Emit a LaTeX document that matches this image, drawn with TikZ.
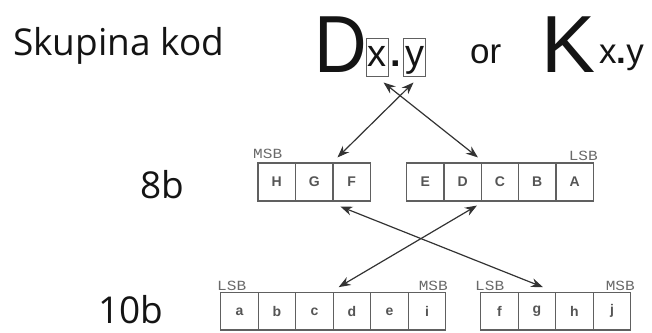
\documentclass[tikz,border=0pt]{standalone}
\usepackage{fontspec}
\setmainfont{Liberation Sans}
\newfontfamily\arialfont{Liberation Sans}
\newfontfamily\titlefont{Open Sans}
\newfontfamily\lblfont{Liberation Mono}
\usetikzlibrary{arrows.meta}
\definecolor{boxgray}{HTML}{606060}
\definecolor{lettergray}{HTML}{555555}
\definecolor{lblgray}{HTML}{6A6A6A}
\definecolor{arrowgray}{HTML}{333333}
\definecolor{txtdark}{HTML}{141414}
\begin{document}
\begin{tikzpicture}[x=1pt,y=-1pt,
  cell/.style={draw=boxgray, line width=1.1pt, minimum width=37.5pt, minimum height=38pt,
    inner sep=0pt, font=\arialfont\bfseries\fontsize{14}{14}\selectfont, text=lettergray},
  lcell/.style={cell, minimum height=37.3pt},
  subbox/.style={draw=boxgray, line width=1pt, minimum width=22pt, text height=28pt,
    text depth=10pt, inner sep=0pt, font=\arialfont\fontsize{38}{38}\selectfont, text=txtdark},
  bigtxt/.style={anchor=base west, inner sep=0pt, text=txtdark},
  sidetxt/.style={anchor=base west, inner sep=0pt, text=txtdark, font=\titlefont\fontsize{37}{37}\selectfont},
  bitlbl/.style={inner sep=0pt, text=lblgray, font=\lblfont\fontsize{14}{14}\selectfont},
  conn/.style={{Stealth[length=12pt,width=9pt]}-{Stealth[length=12pt,width=9pt]},
    line width=1.2pt, draw=arrowgray}]
\useasboundingbox (0,0) rectangle (652,332);

% left labels
\node[sidetxt] (title) at (13,55) {Skupina kod};
\node[sidetxt] (l8b) at (140,198) {8b};
\node[sidetxt] (l10b) at (98,323) {10b};

% top formula
\node[bigtxt, font=\arialfont\fontsize{81}{81}\selectfont] (Dl) at (314.6,72) {\scalebox{0.9}[1]{D}};
\node[subbox, anchor=base] (xb) at (377,66) {x};
\node[anchor=base, inner sep=0pt, text=txtdark, font=\arialfont\bfseries\fontsize{38}{38}\selectfont] (dt) at (395.5,66) {.};
\node[subbox, anchor=base] (yb) at (414.5,66) {y};
\node[bigtxt, font=\arialfont\fontsize{35}{35}\selectfont] (or) at (470,63) {or};
\node[bigtxt, font=\arialfont\fontsize{81}{81}\selectfont] (Kl) at (541,72) {K};
\node[bigtxt, font=\arialfont\fontsize{35}{35}\selectfont] (Ks) at (599,63) {x{\bfseries .}y};

% 8b row
\node[cell] (hH) at (276.75,182) {H};
\node[cell] (hG) at (314.25,182) {G};
\node[cell] (hF) at (351.75,182) {F};
\node[cell] (hE) at (425.35,182) {E};
\node[cell] (hD) at (462.65,182) {D};
\node[cell] (hC) at (499.95,182) {C};
\node[cell] (hB) at (537.25,182) {B};
\node[cell] (hA) at (574.55,182) {A};
\node[bitlbl, anchor=base west] (msb8) at (253,158) {\scalebox{1.15}[1]{MSB}};
\node[bitlbl, anchor=base east] (lsb8) at (598,160) {\scalebox{1.15}[1]{LSB}};

% 10b row
\node[lcell] (la) at (239.45,311.35) {a};
\node[lcell] (lb) at (276.95,311.35) {b};
\node[lcell] (lc) at (314.45,311.35) {c};
\node[lcell] (ld) at (351.95,311.35) {d};
\node[lcell] (le) at (389.45,311.35) {e};
\node[lcell] (li) at (426.95,311.35) {i};
\node[lcell] (lf) at (499.45,311.35) {f};
\node[lcell] (lg) at (536.95,311.35) {g};
\node[lcell] (lh) at (574.45,311.35) {h};
\node[lcell] (lj) at (611.95,311.35) {j};
\node[bitlbl, anchor=base west] (lsb10a) at (217,290) {\scalebox{1.15}[1]{LSB}};
\node[bitlbl, anchor=base east] (msb10a) at (448,290) {\scalebox{1.15}[1]{MSB}};
\node[bitlbl, anchor=base west] (lsb10b) at (475,290) {\scalebox{1.15}[1]{LSB}};
\node[bitlbl, anchor=base east] (msb10b) at (635,290) {\scalebox{1.15}[1]{MSB}};

% connectors
\draw[conn] ([xshift=-5pt,yshift=-6pt]xb.south east) -- ([xshift=-4pt,yshift=5pt]hD.north east);
\draw[conn] ([xshift=-1pt,yshift=-6pt]yb.south) -- ([xshift=5pt,yshift=5pt]hF.north west);
\draw[conn] ([xshift=-5pt,yshift=-4pt]hD.south east) -- ([xshift=6pt,yshift=5pt]ld.north west);
\draw[conn] ([xshift=8pt,yshift=-5pt]hF.south west) -- ([xshift=6pt,yshift=5pt]lg.north);
\end{tikzpicture}
\end{document}
